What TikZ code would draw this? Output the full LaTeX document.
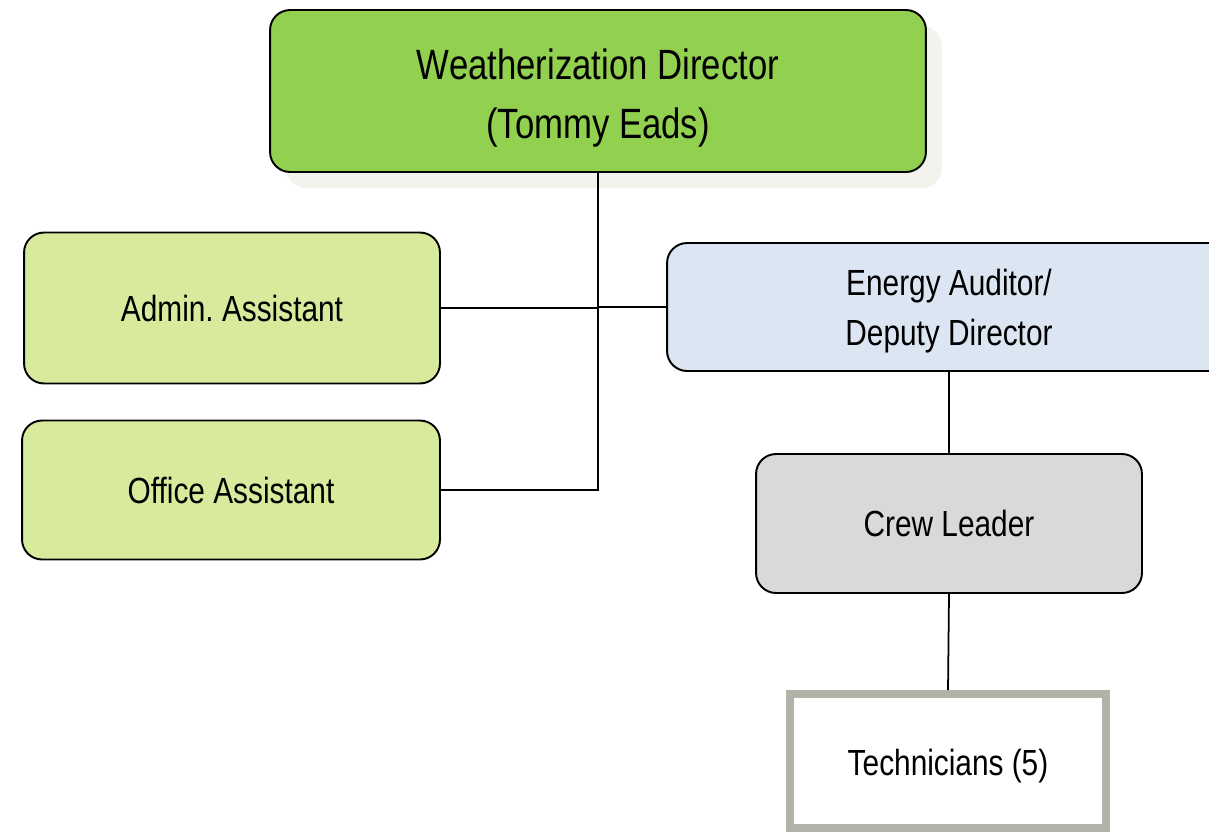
\documentclass[tikz,border=0pt]{standalone}
\usepackage{fontspec}
\setmainfont[FakeStretch=0.82]{Liberation Sans}
\usetikzlibrary{shadows}

\definecolor{dirgreen}{HTML}{92D050}
\definecolor{asstgreen}{HTML}{D8EA9C}
\definecolor{auditblue}{HTML}{DCE6F2}
\definecolor{crewgray}{HTML}{D9D9D9}
\definecolor{techgray}{HTML}{B3B2A9}
\definecolor{shadowgray}{HTML}{F3F2ED}

\begin{document}
\begin{tikzpicture}[x=0.02cm,y=-0.02cm,
  box/.style={draw,line width=1.1pt,rounded corners=0.4cm,align=center,inner sep=0pt,
    font=\fontsize{20.7}{28.3}\selectfont},
  link/.style={line width=1pt}]
\useasboundingbox (0,0) rectangle (1209,836);
% boxes
\node[box,fill=dirgreen,minimum width=13.12cm,minimum height=3.24cm,
  font=\fontsize{24.1}{34}\selectfont,
  drop shadow={shadow xshift=0.32cm,shadow yshift=-0.32cm,fill=shadowgray,opacity=1}]
  (dir) at (598,91) {\rule{0pt}{25.6pt}Weatherization Director\\(Tommy Eads)};
\node[box,fill=asstgreen,minimum width=8.32cm,minimum height=3.02cm] (admin) at (232,308) {Admin.\ Assistant};
\node[box,fill=asstgreen,minimum width=8.36cm,minimum height=2.78cm] (office) at (231,490) {Office Assistant};
\node[box,fill=auditblue,minimum width=11.28cm,minimum height=2.56cm] (audit) at (949,307) {\rule{0pt}{19.6pt}Energy Auditor/\\Deputy Director};
\node[box,fill=crewgray,minimum width=7.72cm,minimum height=2.78cm] (crew) at (949,523.5) {Crew Leader};
\node[box,rounded corners=0pt,draw=techgray,line width=4.5pt,fill=white,
  minimum width=6.32cm,minimum height=2.68cm] (tech) at (948,761) {\rule{0pt}{20.7pt}Technicians (5)};
% lines
\draw[link] (dir.south) |- (office.east);
\draw[link] (admin.east) -- (admin.east -| dir.south);
\draw[link] (audit.west) -- (audit.west -| dir.south);
\draw[link] (audit.south) -- (crew.north);
\draw[link] (crew.south) -- (tech.north);
\end{tikzpicture}
\end{document}
